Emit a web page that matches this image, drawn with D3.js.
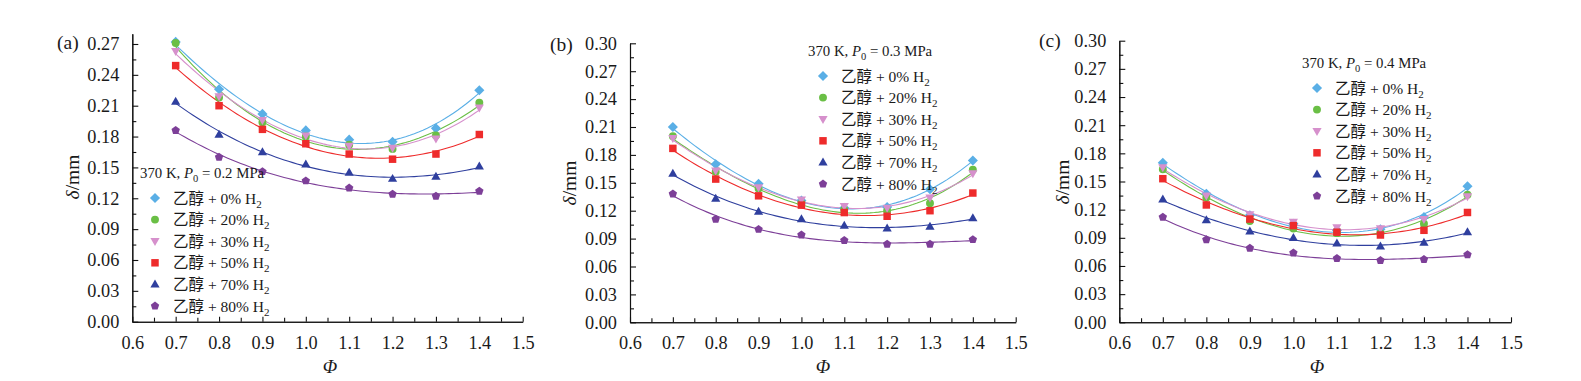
<!DOCTYPE html>
<html>
<head>
<meta charset="utf-8">
<script src="https://cdn.jsdelivr.net/npm/d3@7"></script>
<style>
  body { margin: 0; background: #fff; }
  svg text { font-family: "Liberation Serif", "Noto Sans CJK SC", serif; fill: #1a1a1a; }
</style>
</head>
<body>
<div id="chart"></div>
<script>
// equivalence ratio values
const phi = [0.7, 0.8, 0.9, 1.0, 1.1, 1.2, 1.3, 1.4];
const h2Labels = ["0%", "20%", "30%", "50%", "70%", "80%"];
const pressures = ["0.2", "0.3", "0.4"];
const panelTags = ["(a)", "(b)", "(c)"];
const xTicks = [0.6, 0.7, 0.8, 0.9, 1.0, 1.1, 1.2, 1.3, 1.4, 1.5];
const yTicks = [0, 0.03, 0.06, 0.09, 0.12, 0.15, 0.18, 0.21, 0.24, 0.27, 0.30];

// flame thickness delta/mm, one array per H2 share, per panel
const deltaA = [
  [0.272, 0.226, 0.202, 0.186, 0.177, 0.175, 0.188, 0.225],
  [0.271, 0.218, 0.194, 0.180, 0.172, 0.168, 0.181, 0.213],
  [0.263, 0.219, 0.196, 0.181, 0.171, 0.169, 0.178, 0.208],
  [0.249, 0.210, 0.187, 0.173, 0.163, 0.158, 0.163, 0.182],
  [0.214, 0.182, 0.165, 0.153, 0.145, 0.139, 0.141, 0.151],
  [0.186, 0.160, 0.146, 0.137, 0.130, 0.124, 0.122, 0.127]
];
const deltaB = [
  [0.210, 0.170, 0.149, 0.131, 0.123, 0.124, 0.143, 0.174],
  [0.200, 0.162, 0.144, 0.128, 0.121, 0.120, 0.128, 0.164],
  [0.198, 0.163, 0.145, 0.132, 0.125, 0.123, 0.134, 0.160],
  [0.187, 0.154, 0.136, 0.126, 0.118, 0.114, 0.120, 0.139],
  [0.160, 0.133, 0.119, 0.111, 0.104, 0.101, 0.103, 0.112],
  [0.138, 0.111, 0.100, 0.094, 0.088, 0.084, 0.084, 0.089]
];
const deltaC = [
  [0.170, 0.137, 0.114, 0.105, 0.098, 0.099, 0.112, 0.145],
  [0.163, 0.133, 0.108, 0.100, 0.095, 0.095, 0.105, 0.136],
  [0.165, 0.135, 0.115, 0.107, 0.101, 0.100, 0.110, 0.134],
  [0.153, 0.125, 0.110, 0.103, 0.096, 0.093, 0.098, 0.117],
  [0.131, 0.109, 0.097, 0.090, 0.084, 0.081, 0.085, 0.096],
  [0.112, 0.088, 0.079, 0.074, 0.068, 0.066, 0.067, 0.072]
];

const colors = ["#5aafe6", "#6abf45", "#d690cc", "#ee2b2b", "#2f3f9e", "#7d3f98"];
const shapes = ["diamond", "circle", "triDown", "square", "triUp", "pentagon"];

const width = 1581, height = 381;
const svg = d3.select("#chart").append("svg")
  .attr("width", width)
  .attr("height", height);

// panel placement (pixel box of each plot area)
const panels = [
  { data: deltaA, x0: 132.3, x1: 522.7, yb: 321.7, yt: 33.7, ymax: 0.28,
    tag: [57, 49], ylab: [79, 177], xlab: 330, leg: [140, 178] },
  { data: deltaB, x0: 630, x1: 1015.7, yb: 322.3, yt: 43.3, ymax: 0.30,
    tag: [550, 51], ylab: [576, 183], xlab: 823, leg: [808, 56] },
  { data: deltaC, x0: 1119.3, x1: 1511, yb: 322.3, yt: 40.7, ymax: 0.30,
    tag: [1039, 47], ylab: [1069, 182], xlab: 1317, leg: [1302, 68] }
];

function markerPath(shape, r) {
  const p = d3.path();
  if (shape === "circle") {
    p.arc(0, 0, r * 0.9, 0, 2 * Math.PI);
  } else if (shape === "square") {
    const s = r * 0.85;
    p.rect(-s, -s, 2 * s, 2 * s);
  } else if (shape === "diamond") {
    const s = r * 1.15;
    p.moveTo(0, -s); p.lineTo(s, 0); p.lineTo(0, s); p.lineTo(-s, 0); p.closePath();
  } else if (shape === "triUp" || shape === "triDown") {
    const k = shape === "triUp" ? 1 : -1;
    const s = r * 1.1;
    p.moveTo(0, -k * s); p.lineTo(s * 0.95, k * s * 0.65); p.lineTo(-s * 0.95, k * s * 0.65); p.closePath();
  } else if (shape === "pentagon") {
    for (let i = 0; i < 5; i++) {
      const a = -Math.PI / 2 + i * 2 * Math.PI / 5;
      const px = r * Math.cos(a), py = r * Math.sin(a);
      if (i === 0) p.moveTo(px, py); else p.lineTo(px, py);
    }
    p.closePath();
  }
  return p.toString();
}

// least squares cubic through one series
function cubicFit(xs, ys) {
  const n = 4;
  const A = [];
  for (let i = 0; i < n; i++) {
    A.push([]);
    for (let j = 0; j <= n; j++) A[i].push(0);
  }
  xs.forEach((x, k) => {
    for (let i = 0; i < n; i++) {
      for (let j = 0; j < n; j++) A[i][j] += Math.pow(x, i + j);
      A[i][n] += ys[k] * Math.pow(x, i);
    }
  });
  for (let i = 0; i < n; i++) {
    let m = i;
    for (let r = i + 1; r < n; r++) if (Math.abs(A[r][i]) > Math.abs(A[m][i])) m = r;
    [A[i], A[m]] = [A[m], A[i]];
    for (let r = 0; r < n; r++) {
      if (r === i) continue;
      const f = A[r][i] / A[i][i];
      for (let j = i; j <= n; j++) A[r][j] -= f * A[i][j];
    }
  }
  const c = A.map((row, i) => row[n] / row[i]);
  return x => c[0] + c[1] * x + c[2] * x * x + c[3] * x * x * x;
}

panels.forEach((pn, pi) => {
  const x = d3.scaleLinear().domain([0.6, 1.5]).range([pn.x0, pn.x1]);
  const y = d3.scaleLinear().domain([0, pn.ymax]).range([pn.yb, pn.yt]);
  const g = svg.append("g");

  // axes
  const yAxis = d3.axisLeft(y).tickValues(yTicks.filter(t => t <= pn.ymax + 1e-9))
    .tickFormat(d3.format(".2f")).tickSizeInner(-6).tickSizeOuter(0).tickPadding(13);
  const yMinor = d3.axisLeft(y).tickValues(d3.range(0.015, pn.ymax, 0.03))
    .tickFormat("").tickSizeInner(-4).tickSizeOuter(0);
  const xAxis = d3.axisBottom(x).tickValues(xTicks).tickFormat(d3.format(".1f"))
    .tickSizeInner(-5).tickSizeOuter(0).tickPadding(14);
  const xMinor = d3.axisBottom(x).tickValues(d3.range(0.65, 1.5, 0.1))
    .tickFormat("").tickSizeInner(-4).tickSizeOuter(0);

  [yAxis, yMinor].forEach(ax => {
    g.append("g").attr("transform", `translate(${pn.x0},0)`).call(ax);
  });
  [xAxis, xMinor].forEach(ax => {
    g.append("g").attr("transform", `translate(0,${pn.yb})`).call(ax);
  });
  g.selectAll(".domain, .tick line").attr("stroke", "#111").attr("stroke-width", 1.1);
  g.selectAll(".tick text").attr("font-size", 18.3).attr("fill", "#1a1a1a")
    .style("font-family", "'Liberation Serif', serif");

  // titles
  g.append("text").attr("x", pn.tag[0]).attr("y", pn.tag[1])
    .attr("font-size", 19.5).text(panelTags[pi]);
  const yl = g.append("text")
    .attr("transform", `translate(${pn.ylab[0]},${pn.ylab[1]}) rotate(-90)`)
    .attr("text-anchor", "middle").attr("font-size", 19.5);
  yl.append("tspan").attr("font-style", "italic").text("δ");
  yl.append("tspan").text("/mm");
  g.append("text").attr("x", pn.xlab).attr("y", 373).attr("text-anchor", "middle")
    .attr("font-size", 19).attr("font-style", "italic").text("Φ");

  // fitted curves then markers
  const line = d3.line().x(d => x(d[0])).y(d => y(d[1]));
  pn.data.forEach((vals, si) => {
    const f = cubicFit(phi, vals);
    const pts = d3.range(0.7, 1.4001, 0.01).map(v => [v, f(v)]);
    g.append("path").attr("d", line(pts)).attr("fill", "none")
      .attr("stroke", colors[si]).attr("stroke-width", 1.1);
  });
  pn.data.forEach((vals, si) => {
    g.selectAll(null).data(vals).join("path")
      .attr("transform", (d, i) => `translate(${x(phi[i])},${y(d)})`)
      .attr("d", markerPath(shapes[si], 4.4))
      .attr("fill", colors[si]);
  });

  // legend
  const lg = g.append("g").attr("transform", `translate(${pn.leg[0]},${pn.leg[1]})`);
  const head = lg.append("text").attr("font-size", 14.8);
  head.append("tspan").text("370 K, ");
  head.append("tspan").attr("font-style", "italic").text("P");
  head.append("tspan").attr("font-size", 10.5).attr("dy", 4).text("0");
  head.append("tspan").attr("dy", -4).text(" = " + pressures[pi] + " MPa");
  h2Labels.forEach((lab, si) => {
    const cy = 20 + si * 21.6;
    lg.append("path").attr("transform", `translate(15,${cy})`)
      .attr("d", markerPath(shapes[si], 4.4)).attr("fill", colors[si]);
    const t = lg.append("text").attr("x", 33).attr("y", cy + 5.5).attr("font-size", 15.5);
    t.append("tspan").text("乙醇 + " + lab + " H");
    t.append("tspan").attr("font-size", 11).attr("dy", 4).text("2");
  });
});
</script>
</body>
</html>
